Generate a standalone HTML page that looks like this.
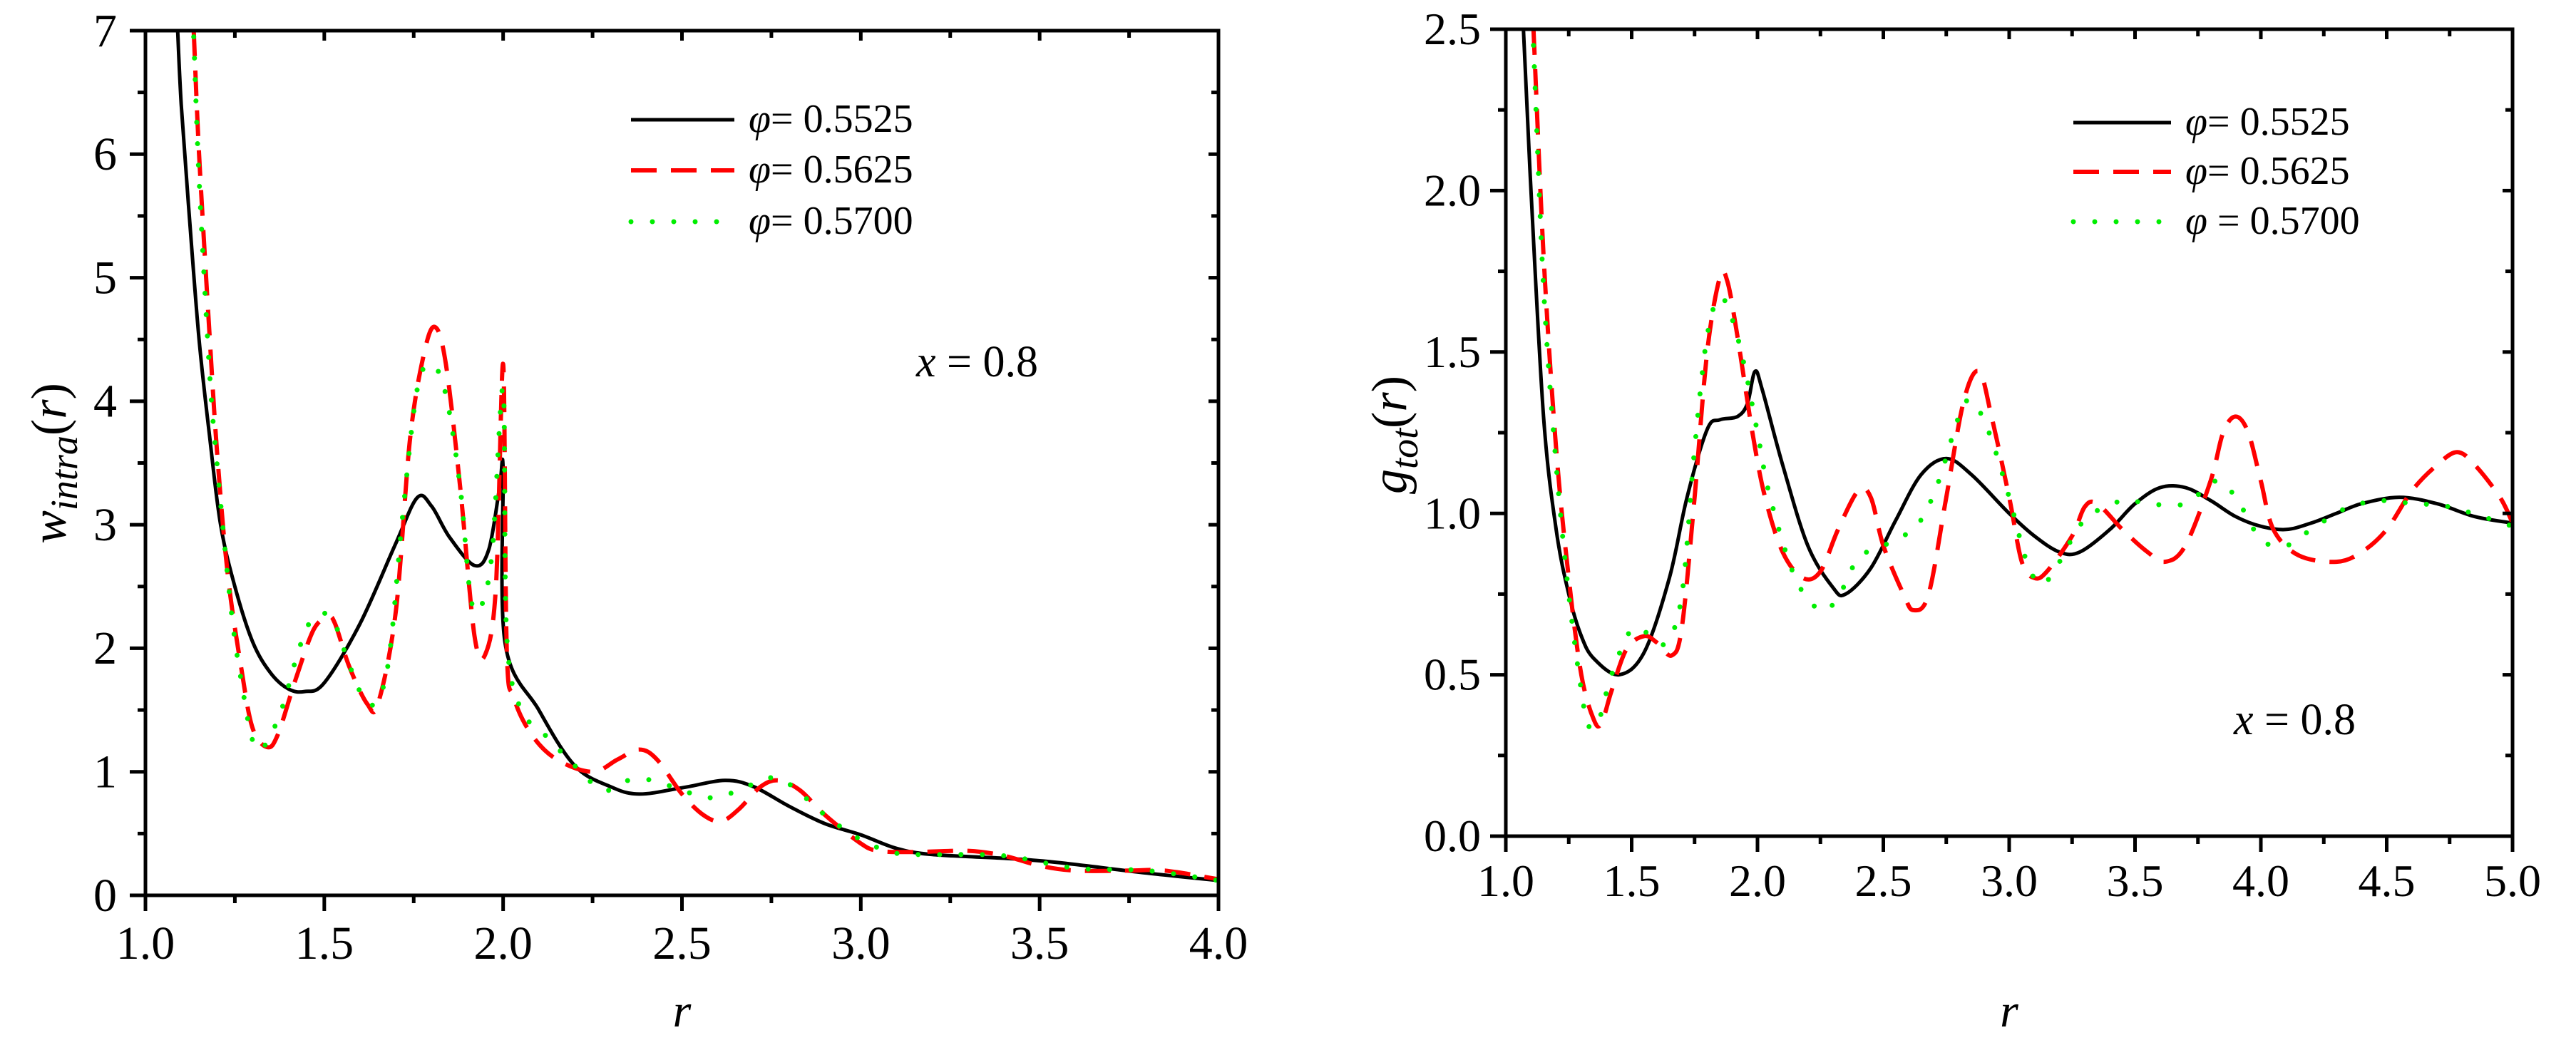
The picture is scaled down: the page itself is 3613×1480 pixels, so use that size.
<!DOCTYPE html>
<html><head><meta charset="utf-8">
<style>
html,body{margin:0;padding:0;background:#fff;}
svg{display:block;}
svg text{font-family:"Liberation Serif","DejaVu Serif",serif;}
</style></head>
<body>
<svg id="chart" width="3613" height="1480" viewBox="0 0 3613 1480" xmlns="http://www.w3.org/2000/svg"></svg>
<script>
// ---------- Left chart data (w_intra) ----------
const L_blackR = [1.09,1.10,1.12,1.15,1.18,1.21,1.25,1.30,1.35,1.40,1.445,1.50,1.60,1.70,1.76,1.80,1.85,1.92,1.96,1.99,2.00,2.005,2.10,2.20,2.30,2.38,2.50,2.62,2.70,2.80,2.90,3.00,3.10,3.20,3.40,3.50,3.60,3.80,4.00];
const L_blackV = [7.0,6.4,5.6,4.5,3.7,3.0,2.5,2.05,1.8,1.67,1.65,1.72,2.2,2.85,3.22,3.15,2.9,2.67,2.8,3.3,3.45,2.05,1.5,1.05,0.88,0.82,0.87,0.93,0.88,0.72,0.58,0.49,0.38,0.33,0.30,0.28,0.25,0.18,0.12];
const L_redR = [1.135,1.15,1.18,1.20,1.23,1.27,1.30,1.34,1.37,1.42,1.47,1.51,1.53,1.57,1.62,1.65,1.70,1.74,1.78,1.81,1.84,1.88,1.92,1.95,1.98,2.00,2.01,2.03,2.08,2.15,2.25,2.32,2.38,2.43,2.50,2.56,2.61,2.66,2.72,2.77,2.83,2.90,3.00,3.05,3.15,3.30,3.40,3.50,3.60,3.75,3.85,4.00];
const L_redV = [7.0,6.0,4.5,3.6,2.6,1.8,1.35,1.2,1.3,1.75,2.15,2.25,2.2,1.85,1.55,1.55,2.3,3.7,4.4,4.6,4.3,3.3,2.1,1.95,2.5,4.3,2.0,1.6,1.3,1.1,1.0,1.1,1.18,1.1,0.82,0.65,0.6,0.7,0.88,0.93,0.85,0.65,0.42,0.36,0.35,0.36,0.32,0.24,0.2,0.2,0.2,0.13];
const L_greenR = [1.135,1.15,1.18,1.20,1.24,1.27,1.30,1.33,1.38,1.43,1.47,1.52,1.56,1.60,1.64,1.68,1.72,1.76,1.80,1.84,1.88,1.91,1.94,1.97,2.00,2.01,2.05,2.10,2.20,2.28,2.35,2.42,2.50,2.58,2.66,2.74,2.80,2.90,3.00,3.10,3.20,3.40,3.60,3.80,4.00];
const L_greenV = [6.95,5.8,4.2,3.5,2.3,1.7,1.25,1.2,1.5,2.0,2.25,2.25,1.95,1.65,1.55,1.9,3.1,4.1,4.3,4.05,3.3,2.4,2.35,2.8,4.1,2.1,1.5,1.35,1.05,0.85,0.93,0.93,0.85,0.79,0.85,0.95,0.9,0.65,0.45,0.34,0.33,0.32,0.22,0.2,0.12];
const L_xTicks = ["1.0","1.5","2.0","2.5","3.0","3.5","4.0"];
const L_yTicks = ["0","1","2","3","4","5","6","7"];

// ---------- Right chart data (g_tot) ----------
const R_blackR = [1.07,1.10,1.15,1.20,1.25,1.30,1.35,1.45,1.55,1.65,1.72,1.80,1.85,1.92,1.96,1.99,2.02,2.10,2.20,2.30,2.35,2.45,2.55,2.65,2.75,2.85,3.00,3.10,3.20,3.28,3.40,3.50,3.60,3.70,3.80,3.90,4.00,4.10,4.20,4.30,4.40,4.55,4.70,4.85,5.00];
const R_blackV = [2.5,2.0,1.3,0.95,0.75,0.62,0.55,0.5,0.57,0.8,1.05,1.26,1.29,1.3,1.34,1.44,1.38,1.15,0.9,0.77,0.75,0.83,0.98,1.12,1.17,1.12,1.0,0.93,0.88,0.88,0.95,1.03,1.08,1.08,1.04,0.99,0.96,0.95,0.97,1.0,1.03,1.05,1.03,0.99,0.97];
const R_redR = [1.11,1.15,1.20,1.25,1.30,1.35,1.38,1.42,1.48,1.55,1.60,1.66,1.70,1.75,1.80,1.85,1.88,1.92,1.98,2.03,2.10,2.18,2.25,2.32,2.40,2.45,2.50,2.58,2.62,2.68,2.75,2.82,2.88,2.93,3.00,3.05,3.10,3.15,3.25,3.30,3.35,3.45,3.55,3.62,3.70,3.80,3.85,3.90,3.95,4.00,4.05,4.15,4.30,4.40,4.50,4.60,4.70,4.78,4.85,4.95,5.00];
const R_redV = [2.5,1.8,1.2,0.8,0.5,0.36,0.35,0.45,0.58,0.62,0.6,0.56,0.65,1.05,1.5,1.73,1.72,1.55,1.25,1.05,0.88,0.8,0.82,0.95,1.07,1.05,0.9,0.75,0.7,0.75,1.05,1.35,1.44,1.3,1.05,0.85,0.8,0.82,0.93,1.02,1.03,0.95,0.88,0.85,0.9,1.1,1.25,1.3,1.25,1.1,0.95,0.87,0.85,0.88,0.95,1.07,1.15,1.19,1.15,1.05,0.97];
const R_greenR = [1.11,1.15,1.20,1.25,1.30,1.33,1.37,1.42,1.50,1.58,1.64,1.70,1.75,1.80,1.85,1.90,1.95,2.00,2.05,2.15,2.25,2.32,2.40,2.50,2.58,2.65,2.72,2.80,2.85,2.92,3.00,3.07,3.13,3.20,3.30,3.45,3.55,3.70,3.82,3.90,4.00,4.10,4.20,4.35,4.50,4.60,4.75,5.00];
const R_greenV = [2.45,1.7,1.15,0.75,0.45,0.34,0.36,0.5,0.64,0.62,0.6,0.75,1.2,1.55,1.67,1.6,1.45,1.25,1.05,0.8,0.7,0.74,0.86,0.9,0.93,0.98,1.1,1.3,1.35,1.25,1.05,0.85,0.78,0.85,0.98,1.04,1.03,1.03,1.1,1.05,0.92,0.9,0.95,1.02,1.04,1.03,1.02,0.96];
const R_xTicks = ["1.0","1.5","2.0","2.5","3.0","3.5","4.0","4.5","5.0"];
const R_yTicks = ["0.0","0.5","1.0","1.5","2.0","2.5"];

const legendLabels = ["0.5525","0.5625","0.5700"];

const NS = "http://www.w3.org/2000/svg";
const svg = document.getElementById('chart');
function mk(tag, attrs, parent){
  const e = document.createElementNS(NS, tag);
  for (const k in attrs) e.setAttribute(k, attrs[k]);
  if (tag === 'text') e.setAttribute('font-family', "'Liberation Serif', 'DejaVu Serif', serif");
  (parent||svg).appendChild(e);
  return e;
}
const styles = [
  {stroke:"#000", w:5, dash:null, cap:"butt"},
  {stroke:"#ff0000", w:6, dash:"36 20", cap:"butt"},
  {stroke:"#00ee00", w:7, dash:"0 30", cap:"round"}
];

function smoothPath(pts){
  let d = 'M' + pts[0][0].toFixed(1) + ' ' + pts[0][1].toFixed(1);
  for (let i = 0; i < pts.length - 1; i++) {
    const p0 = pts[Math.max(0, i - 1)], p1 = pts[i], p2 = pts[i + 1], p3 = pts[Math.min(pts.length - 1, i + 2)];
    const t = 0.5 / 3;
    const c1 = [p1[0] + (p2[0] - p0[0]) * t, p1[1] + (p2[1] - p0[1]) * t];
    const c2 = [p2[0] - (p3[0] - p1[0]) * t, p2[1] - (p3[1] - p1[1]) * t];
    d += ' C' + c1[0].toFixed(1) + ' ' + c1[1].toFixed(1) + ' ' + c2[0].toFixed(1) + ' ' + c2[1].toFixed(1) + ' ' + p2[0].toFixed(1) + ' ' + p2[1].toFixed(1);
  }
  return d;
}

function drawPanel(cfg){
  const g = mk('g', {});
  
  
  const sx = v => cfg.x0 + (v - cfg.xmin) / (cfg.xmax - cfg.xmin) * (cfg.x1 - cfg.x0);
  const sy = v => cfg.y0 - (v - cfg.ymin) / (cfg.ymax - cfg.ymin) * (cfg.y0 - cfg.y1);
  const clip = mk('clipPath', {id: cfg.name + '-clip'}, g);
  mk('rect', {x: cfg.x0, y: cfg.y1, width: cfg.x1 - cfg.x0, height: cfg.y0 - cfg.y1}, clip);

  cfg.series.forEach((s, i) => {
    const pts = s.r.map((r, j) => [sx(r), sy(s.v[j])]);
    const st = styles[i];
    const p = mk('path', {d: smoothPath(pts), fill: 'none', stroke: st.stroke, 'stroke-width': st.w, 'stroke-linecap': st.cap, 'stroke-linejoin': 'round', 'clip-path': 'url(#' + cfg.name + '-clip)'}, g);
    if (st.dash) p.setAttribute('stroke-dasharray', st.dash);
    
    
  });

  const fr = mk('rect', {x: cfg.x0, y: cfg.y1, width: cfg.x1 - cfg.x0, height: cfg.y0 - cfg.y1, fill: 'none', stroke: '#000', 'stroke-width': 5}, g);
  
  

  const xt = mk('g', {stroke: '#000', 'stroke-width': 5}, g);
  for (let v = cfg.xmin, k = 0; v <= cfg.xmax + 1e-9; v += cfg.xminor, k++) {
    const major = (k % 2 === 0);
    const x = sx(v);
    mk('line', {x1: x, y1: cfg.y0, x2: x, y2: cfg.y0 + (major ? 22 : 11)}, xt);
    mk('line', {x1: x, y1: cfg.y1, x2: x, y2: cfg.y1 + (major ? 14 : 10)}, xt);
  }
  cfg.xTicks.forEach(lab => {
    const t = mk('text', {x: sx(parseFloat(lab)), y: cfg.xLabY, 'font-size': cfg.fs, 'text-anchor': 'middle'}, g);
    t.textContent = lab;
    
    
  });
  const yt = mk('g', {stroke: '#000', 'stroke-width': 5}, g);
  for (let v = cfg.ymin, k = 0; v <= cfg.ymax + 1e-9; v += cfg.yminor, k++) {
    const major = (k % 2 === 0);
    const y = sy(v);
    mk('line', {x1: cfg.x0, y1: y, x2: cfg.x0 - (major ? 22 : 11), y2: y}, yt);
    mk('line', {x1: cfg.x1, y1: y, x2: cfg.x1 - (major ? 14 : 10), y2: y}, yt);
  }
  cfg.yTicks.forEach(lab => {
    const t = mk('text', {x: cfg.yLabX, y: sy(parseFloat(lab)) + cfg.fs * 0.33, 'font-size': cfg.fs, 'text-anchor': 'end'}, g);
    t.textContent = lab;
    
    
  });

  const xtitle = mk('text', {x: (cfg.x0 + cfg.x1) / 2, y: 1440, 'font-size': 66, 'font-style': 'italic', 'text-anchor': 'middle'}, g);
  xtitle.textContent = 'r';
  
  

  const ytitle = mk('text', {transform: 'translate(' + cfg.ytX + ',' + cfg.ytY + ') rotate(-90)', 'font-size': 70, 'text-anchor': 'middle'}, g);
  
  
  const a = mk('tspan', {'font-style': 'italic'}, ytitle); a.textContent = cfg.yt[0];
  const b = mk('tspan', {'font-style': 'italic', 'font-size': 54, dy: 16}, ytitle); b.textContent = cfg.yt[1];
  const c = mk('tspan', {dy: -16}, ytitle); c.textContent = '(';
  const d = mk('tspan', {'font-style': 'italic'}, ytitle); d.textContent = 'r';
  const e = mk('tspan', {}, ytitle); e.textContent = ')';

  const lg = mk('g', {}, g);
  
  
  cfg.legY.forEach((y, i) => {
    const st = styles[i];
    const ln = mk('line', {x1: cfg.legX0, y1: y, x2: cfg.legX1, y2: y, stroke: st.stroke, 'stroke-width': st.w, 'stroke-linecap': st.cap}, lg);
    if (st.dash) ln.setAttribute('stroke-dasharray', st.dash);
    
    
    const t = mk('text', {x: cfg.legTx, y: y + 17, 'font-size': 56}, lg);
    
    
    const p = mk('tspan', {'font-style': 'italic'}, t); p.textContent = 'φ';
    const q = mk('tspan', {}, t); q.textContent = (cfg.name === 'right-panel' && i === 2 ? '  = ' : '= ') + legendLabels[i];
  });

  const an = mk('text', {x: cfg.annX, y: cfg.annY, 'font-size': 62}, g);
  
  
  const ax = mk('tspan', {'font-style': 'italic'}, an); ax.textContent = 'x';
  const ay = mk('tspan', {}, an); ay.textContent = ' = 0.8';
}

drawPanel({
  name: 'left-panel', x0: 204, x1: 1709, y0: 1256, y1: 43,
  xmin: 1, xmax: 4, ymin: 0, ymax: 7, xminor: 0.25, yminor: 0.5,
  xTicks: L_xTicks, yTicks: L_yTicks, fs: 66, xLabY: 1345, yLabX: 164,
  ytX: 92, ytY: 650, yt: ['w', 'intra'],
  legX0: 885, legX1: 1030, legY: [168, 239, 311], legTx: 1050,
  annX: 1285, annY: 528,
  series: [{r: L_blackR, v: L_blackV}, {r: L_redR, v: L_redV}, {r: L_greenR, v: L_greenV}]
});
drawPanel({
  name: 'right-panel', x0: 2112, x1: 3524, y0: 1173, y1: 41,
  xmin: 1, xmax: 5, ymin: 0, ymax: 2.5, xminor: 0.25, yminor: 0.25,
  xTicks: R_xTicks, yTicks: R_yTicks, fs: 64, xLabY: 1257, yLabX: 2077,
  ytX: 1972, ytY: 610, yt: ['g', 'tot'],
  legX0: 2908, legX1: 3045, legY: [172, 241, 311], legTx: 3065,
  annX: 3133, annY: 1030,
  series: [{r: R_blackR, v: R_blackV}, {r: R_redR, v: R_redV}, {r: R_greenR, v: R_greenV}]
});
</script>
</body></html>
